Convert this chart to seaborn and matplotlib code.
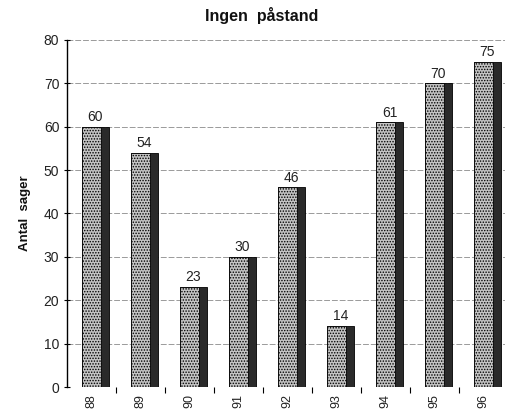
import matplotlib
matplotlib.use('Agg')
import matplotlib.pyplot as plt
from matplotlib.ticker import FixedLocator
import seaborn as sns
import pandas as pd

years = ['88', '89', '90', '91', '92', '93', '94', '95', '96']
values = [60, 54, 23, 30, 46, 14, 61, 70, 75]
yticks = [0, 10, 20, 30, 40, 50, 60, 70, 80]
title = 'Ingen  påstand'
ylabel = 'Antal  sager'

sns.set_style('white')
plt.rcParams['font.family'] = ['Liberation Sans', 'DejaVu Sans']
plt.rcParams['hatch.linewidth'] = 0.7

fig = plt.figure(figsize=(5.06, 4.11), dpi=100)
ax = fig.add_axes([67 / 506, 1 - 387 / 411, 441 / 506, 347 / 411])

df = pd.DataFrame({'year': years, 'n': values})

# dark side (whole 3D bar footprint)
sns.barplot(data=df, x='year', y='n', width=0.551, color='#2a2a2a', saturation=1,
            edgecolor='black', linewidth=0.6, ax=ax, zorder=3, errorbar=None)
for p in ax.patches:
    p.set_x(p.get_x() + 0.0815)
side_container = ax.containers[0]

# front face with dotted pattern
sns.barplot(data=df, x='year', y='n', width=0.388, color='#c4c4c4', saturation=1,
            edgecolor='black', linewidth=0.6, hatch='......', ax=ax, zorder=4, errorbar=None)

ax.bar_label(side_container, labels=[str(v) for v in values], padding=2,
             fontsize=10, color='#222222')

ax.set_ylim(0, 80)
ax.set_xlim(-0.5, 8.5)
ax.set_yticks(yticks)
ax.set_yticklabels([str(t) for t in yticks])
ax.yaxis.grid(True, color='#9a9a9a', linestyle=(0, (6, 2)), linewidth=0.7)
ax.xaxis.grid(False)
ax.set_axisbelow(True)

for s in ['top', 'right', 'bottom']:
    ax.spines[s].set_visible(False)
ax.spines['left'].set_color('black')
ax.spines['left'].set_linewidth(1.0)

ax.tick_params(axis='y', direction='inout', length=5, width=0.8, color='black',
               labelsize=10, labelcolor='#222222', pad=3, left=True)
ax.set_xticks(range(len(years)))
ax.set_xticklabels(years, rotation=90, fontsize=9, color='#222222')
ax.tick_params(axis='x', which='major', length=0, pad=5)
ax.xaxis.set_minor_locator(FixedLocator([i + 0.5 for i in range(len(years) - 1)]))
ax.tick_params(axis='x', which='minor', length=4, width=0.8, color='black',
               direction='out', bottom=True)
ax.set_xlabel('')
ax.set_ylabel('')

fig.text(262 / 506, 1 - 15 / 411, title, ha='center', va='center',
         fontweight='bold', fontsize=11.5, color='#111111')
fig.text(25 / 506, 1 - 213 / 411, ylabel, ha='center', va='center', rotation=90,
         fontweight='bold', fontsize=9.5, color='#111111')

fig.savefig('out.png', dpi=100)
